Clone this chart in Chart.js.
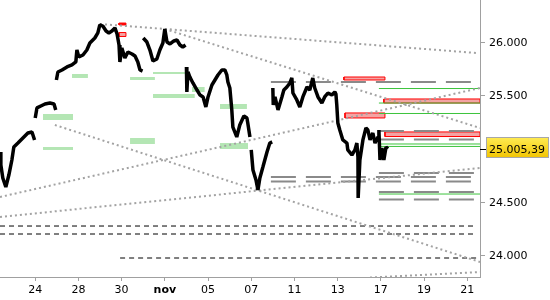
<!DOCTYPE html>
<html>
<head>
<meta charset="utf-8">
<script src="https://cdn.jsdelivr.net/npm/chart.js@4.4.1/dist/chart.umd.min.js"></script>
<style>
html, body { margin: 0; padding: 0; background: #fff; }
#wrap { width: 550px; height: 300px; }
</style>
</head>
<body>
<div id="wrap"><canvas id="chart" width="550" height="300"></canvas></div>
<script>
// x = trading day index, 0 = 24 oct, 2 = 28 oct ... 20 = 21 nov
var tickDays = [0, 2, 4, 6, 8, 10, 12, 14, 16, 18, 20];
var tickLabels = ['24', '28', '30', 'nov', '05', '07', '11', '13', '17', '19', '21'];
var priceTicks = [24000, 24500, 25500, 26000];
var lastPrice = 25005.39;

// price path, null = session gap
var priceDays = [
  -1.63, -1.59, -1.50, -1.36, -1.22, -1.08, -0.99, -0.80, -0.57, -0.34, -0.15, -0.03, -0.02,
  0.00, 0.08, 0.26, 0.45, 0.68, 0.87, 0.95, 0.96,
  0.98, 1.05, 1.24, 1.47, 1.70, 1.88, 1.93, 2.02, 2.21, 2.39, 2.53, 2.76, 2.90, 2.99, 3.13, 3.28, 3.41, 3.55, 3.69, 3.79, 3.88, 3.92, 4.01, 4.15, 4.29, 4.48, 4.62, 4.75, 4.85, 4.97, 4.98,
  5.00, 5.17, 5.31, 5.45, 5.63, 5.77, 5.91, 6.00, 6.10, 6.24, 6.42, 6.56, 6.70, 6.83, 6.96, 6.97,
  7.00, 7.02, 7.07, 7.16, 7.30, 7.49, 7.63, 7.77, 7.90, 8.00, 8.18, 8.32, 8.46, 8.64, 8.78, 8.87, 8.92, 9.01, 9.10, 9.15, 9.33, 9.47, 9.66, 9.80, 9.84, 9.94, 9.96,
  10.00, 10.08, 10.22, 10.31, 10.40, 10.54, 10.73, 10.86, 10.97, 10.98,
  11.00, 11.02, 11.10, 11.24, 11.42, 11.51, 11.65, 11.79, 11.88, 11.93, 12.11, 12.25, 12.39, 12.58, 12.71, 12.85, 12.94, 13.09, 13.27, 13.40, 13.55, 13.73, 13.87, 13.92,
  13.96, 14.01, 14.10, 14.24, 14.43, 14.47, 14.66, 14.80, 14.89, 14.94, 14.95, 15.03, 15.17, 15.31, 15.40, 15.50, 15.63, 15.73, 15.87, 15.91, 15.96, 16.05, 16.14, 16.24, 16.33
];
var priceValues = [
  24975, 24853, 24731, 24647, 24759, 24900, 25022, 25059, 25106, 25153, 25163, 25088, null,
  25294, 25388, 25406, 25425, 25434, 25425, 25369, null,
  25650, 25725, 25744, 25772, 25791, 25819, 25931, 25866, 25884, 25931, 25997, 26044, 26091, 26166, 26156, 26109, 26091, 26109, 26138, 26081, 25978, 25819, 25950, 25856, 25913, 25894, 25875, 25819, 25744, 25734, null,
  26044, 26006, 25931, 25828, 25847, 25931, 25997, 26128, 26006, 25988, 26016, 26025, 25978, 25959, 25978, null,
  25772, 25538, 25725, 25678, 25622, 25556, 25509, 25491, 25397, 25491, 25603, 25650, 25697, 25744, 25744, 25697, 25631, 25575, 25369, 25209, 25116, 25228, 25313, 25294, 25247, 25116, null,
  24994, 24806, 24713, 24619, 24731, 24834, 24975, 25059, 25069, null,
  25575, 25416, 25491, 25369, 25491, 25556, 25584, 25622, 25669, 25528, 25463, 25397, 25491, 25584, 25556, 25669, 25575, 25491, 25434, 25491, 25528, 25509, 25538, 25519,
  25416, 25247, 25181, 25088, 25059, 24994, 24947, 24994, 25059, 24928, 24544, 24900, 25088, 25200, 25181, 25088, 25153, 25059, 25116, 25181, 24900, 25013, 24900, 25022, 25005
];

// dotted trend lines: [day0, value0, day1, value1]
var trendLines = [
  [3.00, 26175, 20.45, 25903],
  [6.00, 26128, 20.59, 25200],
  [-1.63, 24553, 20.59, 25575],
  [0.91, 25228, 20.59, 23944],
  [-1.63, 24366, 20.59, 24825],
  [15.50, 23798, 20.59, 23850]
];

// zones: [day0, day1, low, high]
var greenZones = [
  [0.36, 1.75, 25275, 25331],
  [0.36, 1.75, 24994, 25022],
  [1.70, 2.44, 25669, 25706],
  [4.39, 5.54, 25650, 25678],
  [4.39, 5.54, 25050, 25106],
  [5.45, 6.93, 25706, 25725],
  [5.45, 7.39, 25481, 25519],
  [7.25, 7.85, 25538, 25584],
  [8.55, 9.80, 25378, 25425],
  [8.55, 9.85, 25003, 25059]
];
var redZones = [
  [3.88, 4.20, 26058, 26095],
  [14.29, 16.19, 25650, 25678],
  [16.14, 20.59, 25434, 25472],
  [14.34, 16.19, 25294, 25341],
  [16.19, 20.59, 25120, 25163]
];
var redMarks = [
  [3.88, 4.20, 26166, 26184]
];

// horizontal levels
var greyLevelsA = [25631, 24741, 24698];
var greyRangeA = [10.91, 20.17];
var greyLevelsB = [25172, 25092, 24778, 24600, 24530];
var greyRangeB = [15.91, 20.31];
var greenLevels = [25570, 25434, 25336, 25050, 25027, 24581];
var greenRange = [15.91, 20.59];
var blackLevels = [24281, 24206, 23981];
var blackStarts = [-1.63, -1.63, 3.93];
var blackEnd = 20.45;

function fmt(v) {
  return String(Math.round(v)).replace(/\B(?=(\d{3})+(?!\d))/g, '.');
}

var datasets = [];

// price
datasets.push({
  data: priceDays.map(function (d, i) { return { x: d, y: priceValues[i] }; }),
  borderColor: '#000',
  borderWidth: 3.5,
  borderJoinStyle: 'bevel',
  order: 0
});

trendLines.forEach(function (t) {
  datasets.push({
    data: [{ x: t[0], y: t[1] }, { x: t[2], y: t[3] }],
    borderColor: '#a3a3a3', borderWidth: 2, borderDash: [2, 3], order: 1
  });
});

blackLevels.forEach(function (v, i) {
  datasets.push({
    data: [{ x: blackStarts[i], y: v }, { x: blackEnd, y: v }],
    borderColor: '#000', borderWidth: 1, borderDash: [5, 4], order: 1
  });
});

greyLevelsA.forEach(function (v) {
  datasets.push({
    data: [{ x: greyRangeA[0], y: v }, { x: greyRangeA[1], y: v }],
    borderColor: '#8a8a8a', borderWidth: 2, borderDash: [25, 10], order: 1
  });
});
greyLevelsB.forEach(function (v) {
  datasets.push({
    data: [{ x: greyRangeB[0], y: v }, { x: greyRangeB[1], y: v }],
    borderColor: '#8a8a8a', borderWidth: 2, borderDash: [25, 10], order: 1
  });
});

greenLevels.forEach(function (v) {
  datasets.push({
    data: [{ x: greenRange[0], y: v }, { x: greenRange[1], y: v }],
    borderColor: '#3cc43c', borderWidth: 1, order: 1
  });
});

// zone fill: top edge filled down to the low value
function zoneFill(z, color) {
  return {
    data: [{ x: z[0], y: z[3] }, { x: z[1], y: z[3] }],
    borderWidth: 0, backgroundColor: color, fill: { value: z[2] }, order: 3
  };
}
function zoneBorder(z, color) {
  return {
    data: [{ x: z[0], y: z[2] }, { x: z[1], y: z[2] }, { x: z[1], y: z[3] }, { x: z[0], y: z[3] }, { x: z[0], y: z[2] }],
    borderColor: color, borderWidth: 1, order: 2
  };
}

greenZones.forEach(function (z) { datasets.push(zoneFill(z, '#b4e6b4')); });
redZones.forEach(function (z) {
  datasets.push(zoneFill(z, '#f4a3a3'));
  datasets.push(zoneBorder(z, '#ff0000'));
});
redMarks.forEach(function (z) {
  datasets.push(zoneFill(z, '#ff0000'));
  datasets.push(zoneBorder(z, '#ff0000'));
});

// current price tag on the right axis
var priceTag = {
  id: 'priceTag',
  afterDraw: function (chart) {
    var ctx = chart.ctx;
    var y = Math.round(chart.scales.y.getPixelForValue(lastPrice));
    var left = chart.chartArea.right;
    ctx.save();
    ctx.strokeStyle = '#000';
    ctx.lineWidth = 1;
    ctx.beginPath();
    ctx.moveTo(left, y + 0.5);
    ctx.lineTo(left + 7, y + 0.5);
    ctx.stroke();
    var g = ctx.createLinearGradient(0, y - 12, 0, y + 9);
    g.addColorStop(0, '#ffec55');
    g.addColorStop(1, '#f2c400');
    ctx.fillStyle = g;
    ctx.fillRect(left + 6, y - 12, 63, 21);
    ctx.strokeStyle = '#a8a8a8';
    ctx.strokeRect(left + 6.5, y - 11.5, 62, 20);
    ctx.fillStyle = '#000';
    ctx.font = '11px "DejaVu Sans"';
    ctx.textAlign = 'left';
    ctx.textBaseline = 'middle';
    var txt = lastPrice.toFixed(2).split('.');
    ctx.fillText(fmt(Number(txt[0])) + ',' + txt[1], left + 9, y + 1);
    ctx.restore();
  }
};

new Chart(document.getElementById('chart').getContext('2d'), {
  type: 'line',
  data: { datasets: datasets },
  options: {
    responsive: false,
    animation: false,
    events: [],
    layout: { padding: 0 },
    elements: {
      point: { radius: 0 },
      line: { tension: 0, fill: false }
    },
    plugins: {
      legend: { display: false },
      tooltip: { enabled: false }
    },
    scales: {
      x: {
        type: 'linear',
        min: -1.63,
        max: 20.59,
        afterBuildTicks: function (s) { s.ticks = tickDays.map(function (v) { return { value: v }; }); },
        afterFit: function (s) { s.height = 23; s.paddingLeft = 0; s.paddingRight = 0; },
        grid: { drawOnChartArea: false, tickLength: 4, color: '#a0a0a0' },
        border: { color: '#a0a0a0' },
        ticks: {
          autoSkip: false,
          maxRotation: 0,
          padding: 3,
          color: '#000',
          font: function (c) {
            return { family: 'DejaVu Sans', size: 11, weight: tickLabels[c.index] === 'nov' ? 'bold' : 'normal' };
          },
          callback: function (v, i) { return tickLabels[i]; }
        }
      },
      y: {
        type: 'linear',
        position: 'right',
        min: 23803,
        max: 26400,
        afterBuildTicks: function (s) { s.ticks = priceTicks.map(function (v) { return { value: v }; }); },
        afterFit: function (s) { s.width = 70; s.paddingTop = 0; s.paddingBottom = 0; },
        grid: { drawOnChartArea: false, tickLength: 5, color: '#a0a0a0' },
        border: { color: '#a0a0a0' },
        ticks: {
          padding: 4,
          color: '#000',
          font: { family: 'DejaVu Sans', size: 11 },
          callback: function (v) { return fmt(v); }
        }
      }
    }
  },
  plugins: [priceTag]
});
</script>
</body>
</html>
